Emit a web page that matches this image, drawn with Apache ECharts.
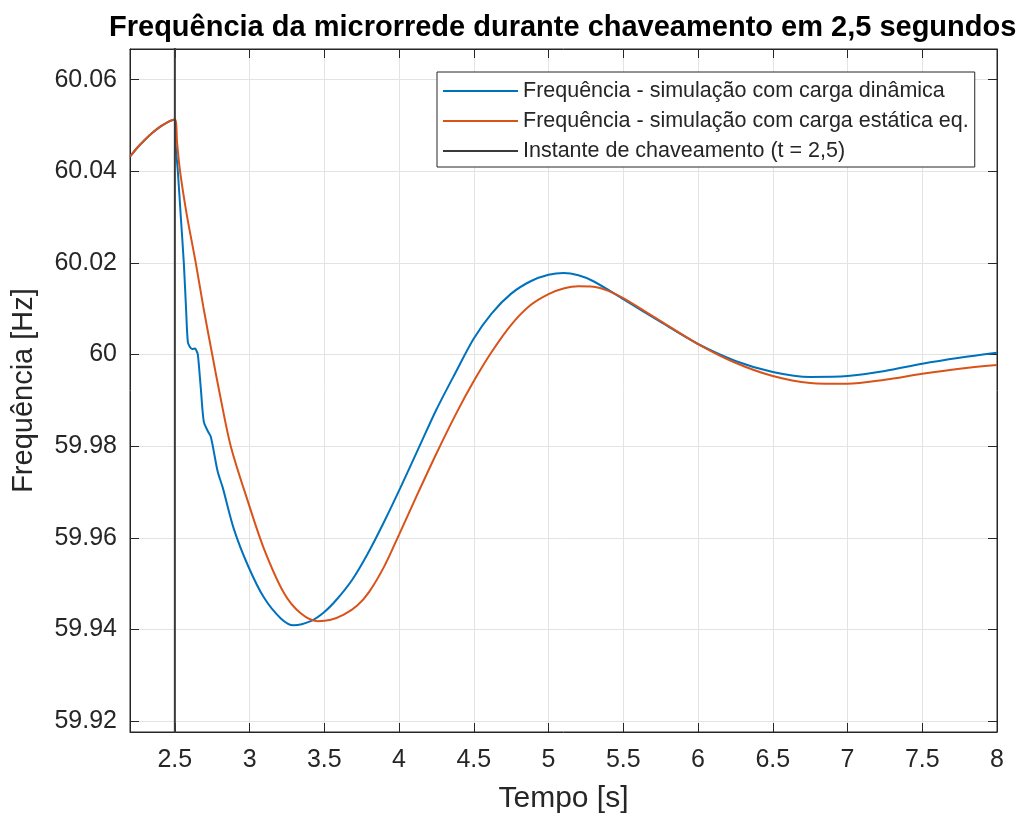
<!DOCTYPE html>
<html>
<head>
<meta charset="utf-8">
<script src="https://cdn.jsdelivr.net/npm/echarts@6/dist/echarts.min.js"></script>
<style>html,body{margin:0;padding:0;background:#fff}#c{width:1025px;height:819px}</style>
</head>
<body>
<div id="c"></div>
<script>
const titleText = 'Frequência da microrrede durante chaveamento em 2,5 segundos';
const xName = 'Tempo [s]';
const yName = 'Frequência [Hz]';
const seriesNames = [
  'Frequência - simulação com carga dinâmica',
  'Frequência - simulação com carga estática eq.',
  'Instante de chaveamento (t = 2,5)'
];
const xLimits = [2.2, 8];
const yLimits = [59.9176, 60.0667];
const xStep = 0.5;
const yStep = 0.02;

const dynamicT = [2.2, 2.25, 2.3, 2.35, 2.4, 2.45, 2.5, 2.505, 2.52, 2.54, 2.56, 2.575, 2.587, 2.6, 2.615, 2.635, 2.645, 2.654, 2.674, 2.694, 2.72, 2.741, 2.787, 2.82, 2.894, 2.988, 3.095, 3.209, 3.295, 3.409, 3.5, 3.59, 3.69, 3.79, 3.9, 4.01, 4.13, 4.25, 4.38, 4.5, 4.62, 4.75, 4.88, 5.0, 5.1, 5.2, 5.3, 5.5, 5.75, 6.0, 6.25, 6.5, 6.75, 7.0, 7.25, 7.5, 7.75, 8.0];
const dynamicF = [60.0432, 60.0452, 60.0469, 60.0484, 60.0497, 60.0507, 60.0513, 60.046, 60.040, 60.030, 60.020, 60.010, 60.0027, 60.0017, 60.0012, 60.0013, 60.0008, 60.000, 59.9925, 59.9853, 59.9833, 59.982, 59.9744, 59.971, 59.962, 59.954, 59.947, 59.9424, 59.9409, 59.9418, 59.9438, 59.9468, 59.951, 59.9565, 59.9635, 59.971, 59.9795, 59.988, 59.9962, 60.0035, 60.009, 60.0133, 60.016, 60.0174, 60.0178, 60.0173, 60.016, 60.0121, 60.0071, 60.0023, 59.9986, 59.9962, 59.9951, 59.9953, 59.9964, 59.998, 59.9993, 60.0004];

const staticT = [2.2, 2.25, 2.3, 2.35, 2.4, 2.45, 2.5, 2.515, 2.535, 2.58, 2.64, 2.69, 2.75, 2.8, 2.874, 2.988, 3.095, 3.229, 3.342, 3.456, 3.543, 3.63, 3.72, 3.8, 3.9, 4.0, 4.12, 4.25, 4.38, 4.5, 4.62, 4.75, 4.88, 5.0, 5.1, 5.2, 5.3, 5.4, 5.5, 5.75, 6.0, 6.25, 6.5, 6.75, 7.0, 7.25, 7.5, 7.75, 8.0];
const staticF = [60.0432, 60.0452, 60.0469, 60.0484, 60.0497, 60.0507, 60.0513, 60.0462, 60.040, 60.0305, 60.020, 60.0105, 60.000, 59.9915, 59.980, 59.968, 59.9577, 59.948, 59.9435, 59.9418, 59.9421, 59.9432, 59.9452, 59.9482, 59.9537, 59.9607, 59.9693, 59.9784, 59.987, 59.9942, 60.0006, 60.0065, 60.0108, 60.0132, 60.0144, 60.0149, 60.0148, 60.0139, 60.0123, 60.0073, 60.0023, 59.9982, 59.9953, 59.9938, 59.9936, 59.9945, 59.9958, 59.9969, 59.9977];

const switchT = [2.5, 2.5];
const switchF = [59.9, 60.1];

const zip = (a, b) => a.map((v, i) => [v, b[i]]);
const FONT = 'Liberation Sans';
const INK = '#262626';

const chart = echarts.init(document.getElementById('c'), null, {renderer: 'canvas'});
const baseX = {
  type: 'value', min: xLimits[0], max: xLimits[1],
  minInterval: xStep, maxInterval: xStep, splitNumber: 12
};
const baseY = {
  type: 'value', min: yLimits[0], max: yLimits[1],
  minInterval: yStep, maxInterval: yStep, splitNumber: 7
};
chart.setOption({
  animation: false,
  backgroundColor: '#fff',
  title: {
    text: titleText, left: 104, top: 8,
    textStyle: {fontFamily: FONT, fontWeight: 'bold', fontSize: 29, color: '#000'}
  },
  legend: {
    orient: 'vertical', left: 437, top: 72,
    padding: [8, 6, 5, 6], itemGap: 8, itemWidth: 75, itemHeight: 2,
    icon: 'rect',
    borderColor: INK, borderWidth: 1, backgroundColor: '#fff',
    textStyle: {fontFamily: FONT, fontSize: 21.5, color: INK},
    data: seriesNames
  },
  grid: {
    left: 130, right: 28, top: 49, bottom: 85,
    show: true, borderColor: INK, borderWidth: 1, backgroundColor: '#fff'
  },
  xAxis: [
    Object.assign({}, baseX, {
      position: 'bottom', name: xName, nameLocation: 'middle', nameGap: 52,
      nameTextStyle: {fontFamily: FONT, fontSize: 30, color: INK},
      axisLine: {show: true, lineStyle: {color: INK, width: 1}},
      axisTick: {show: true, inside: true, length: 9, lineStyle: {color: INK}},
      axisLabel: {show: true, showMinLabel: false, margin: 16, fontFamily: FONT, fontSize: 25, color: INK},
      splitLine: {show: true, lineStyle: {color: '#e3e3e3', width: 1}}
    }),
    Object.assign({}, baseX, {
      position: 'top',
      axisLine: {show: true, lineStyle: {color: INK, width: 1}},
      axisTick: {show: true, inside: true, length: 9, lineStyle: {color: INK}},
      axisLabel: {show: false}, splitLine: {show: false}
    })
  ],
  yAxis: [
    Object.assign({}, baseY, {
      position: 'left', name: yName, nameLocation: 'middle', nameGap: 92, nameRotate: 90,
      nameTextStyle: {fontFamily: FONT, fontSize: 29, color: INK},
      axisLine: {show: true, lineStyle: {color: INK, width: 1}},
      axisTick: {show: true, inside: true, length: 9, lineStyle: {color: INK}},
      axisLabel: {show: true, showMinLabel: false, showMaxLabel: false, margin: 13, fontFamily: FONT, fontSize: 25, color: INK},
      splitLine: {show: true, lineStyle: {color: '#e3e3e3', width: 1}}
    }),
    Object.assign({}, baseY, {
      position: 'right',
      axisLine: {show: true, lineStyle: {color: INK, width: 1}},
      axisTick: {show: true, inside: true, length: 9, lineStyle: {color: INK}},
      axisLabel: {show: false}, splitLine: {show: false}
    })
  ],
  series: [
    {
      name: seriesNames[0], type: 'line', data: zip(dynamicT, dynamicF),
      symbol: 'none', smooth: 0.3, clip: true,
      lineStyle: {color: '#0072BD', width: 2}, itemStyle: {color: '#0072BD'}
    },
    {
      name: seriesNames[1], type: 'line', data: zip(staticT, staticF),
      symbol: 'none', smooth: 0.3, clip: true,
      lineStyle: {color: '#D95319', width: 2}, itemStyle: {color: '#D95319'}
    },
    {
      name: seriesNames[2], type: 'line', data: zip(switchT, switchF),
      symbol: 'none', clip: true,
      lineStyle: {color: '#3a3a3a', width: 2}, itemStyle: {color: '#3a3a3a'}
    }
  ]
});
</script>
</body>
</html>
